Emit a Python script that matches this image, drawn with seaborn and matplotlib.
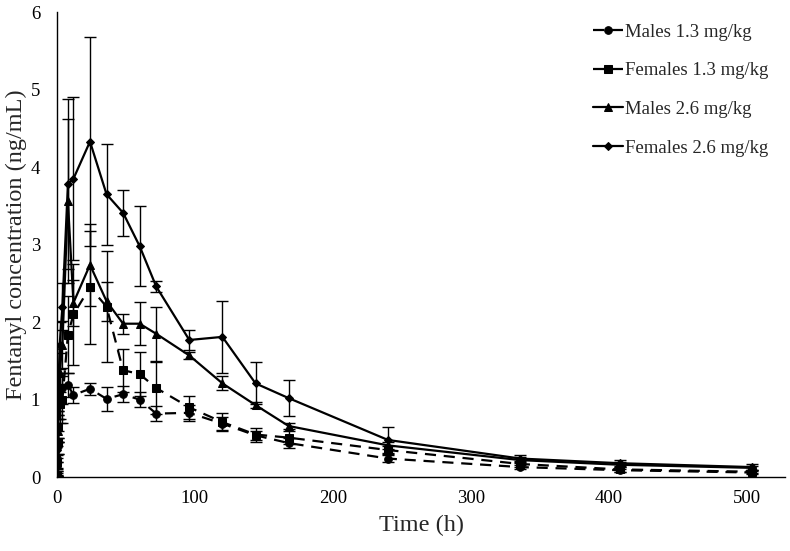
import pandas as pd
import seaborn as sns
import matplotlib.pyplot as plt

# Sampling times (h)
time_h = [0, 0.25, 0.5, 1, 2, 4, 8, 12, 24, 36, 48, 60, 72, 96, 120, 144, 168, 240, 336, 408, 504]

# Mean fentanyl concentration (ng/mL)
males_13 = [0.02, 0.15, 0.40, 0.65, 0.95, 1.15, 1.19, 1.06, 1.14, 1.01, 1.07, 1.00, 0.82, 0.83, 0.69, 0.54, 0.44, 0.24, 0.13, 0.09, 0.06]
females_13 = [0.03, 0.20, 0.45, 0.65, 0.95, 1.00, 1.84, 2.10, 2.45, 2.20, 1.38, 1.33, 1.15, 0.90, 0.71, 0.55, 0.51, 0.35, 0.17, 0.10, 0.07]
males_26 = [0.05, 0.30, 0.60, 0.95, 1.35, 1.71, 3.56, 2.25, 2.74, 2.27, 1.98, 1.98, 1.85, 1.57, 1.21, 0.93, 0.66, 0.41, 0.22, 0.16, 0.12]
females_26 = [0.05, 0.35, 0.65, 1.05, 1.70, 2.20, 3.78, 3.85, 4.33, 3.65, 3.41, 2.98, 2.46, 1.77, 1.81, 1.21, 1.02, 0.48, 0.24, 0.18, 0.13]

# Standard deviations
males_13_sd = [0.01, 0.05, 0.10, 0.15, 0.20, 0.20, 0.15, 0.10, 0.08, 0.15, 0.10, 0.10, 0.10, 0.10, 0.08, 0.06, 0.07, 0.04, 0.03, 0.02, 0.02]
females_13_sd = [0.02, 0.08, 0.15, 0.20, 0.25, 0.30, 0.50, 0.65, 0.73, 0.72, 0.28, 0.28, 0.33, 0.15, 0.12, 0.09, 0.08, 0.05, 0.04, 0.03, 0.02]
males_26_sd = [0.03, 0.10, 0.15, 0.20, 0.25, 0.30, 1.06, 0.30, 0.53, 0.25, 0.13, 0.28, 0.35, 0.04, 0.09, 0.04, 0.04, 0.05, 0.04, 0.03, 0.03]
females_26_sd = [0.03, 0.10, 0.20, 0.25, 0.30, 0.30, 1.10, 1.05, 1.35, 0.65, 0.30, 0.52, 0.07, 0.13, 0.46, 0.27, 0.23, 0.17, 0.05, 0.04, 0.04]

series = [
    ("Males 1.3 mg/kg", males_13, males_13_sd, "o", (0, (5, 3.5)), 5.5),
    ("Females 1.3 mg/kg", females_13, females_13_sd, "s", (0, (5, 3.5)), 5.5),
    ("Males 2.6 mg/kg", males_26, males_26_sd, "^", "-", 5.5),
    ("Females 2.6 mg/kg", females_26, females_26_sd, "D", "-", 4.5),
]

sns.set_style("white")
plt.rcParams['font.family'] = ['Liberation Serif', 'DejaVu Serif']

fig, ax = plt.subplots(figsize=(7.9, 5.51), dpi=100)
fig.subplots_adjust(left=0.072, right=0.994, bottom=0.134, top=0.978)

for label, vals, sd, marker, ls, ms in series:
    df = pd.DataFrame({"Time": time_h, "Conc": vals})
    ax.errorbar(time_h, vals, yerr=sd, fmt="none", ecolor="black",
                elinewidth=1.0, capsize=4, capthick=1.0, zorder=2)
    sns.lineplot(data=df, x="Time", y="Conc", ax=ax, color="black",
                 marker=marker, markersize=ms, markeredgecolor="black",
                 linestyle=ls, linewidth=1.6, label=label, zorder=3)

ax.set_xlim(0, 528)
ax.set_ylim(0, 6)
ax.set_xticks([0, 100, 200, 300, 400, 500])
ax.set_yticks([0, 1, 2, 3, 4, 5, 6])
ax.tick_params(axis="both", length=0, labelsize=13.5, colors="black")
ax.tick_params(axis="x", pad=9)
ax.tick_params(axis="y", pad=12)

for side in ["top", "right"]:
    ax.spines[side].set_visible(False)
for side in ["left", "bottom"]:
    ax.spines[side].set_color("black")
    ax.spines[side].set_linewidth(1.0)

ax.set_xlabel("Time (h)", fontsize=17.5, labelpad=6)
ax.set_ylabel("Fentanyl concentration (ng/mL)", fontsize=17.5, labelpad=3)

ax.legend(loc="upper right", bbox_to_anchor=(1.0, 1.012), frameon=False,
          fontsize=13.5, labelspacing=1.15, handlelength=1.6, handletextpad=0.1)

plt.savefig("out.png", dpi=100)
plt.close()
